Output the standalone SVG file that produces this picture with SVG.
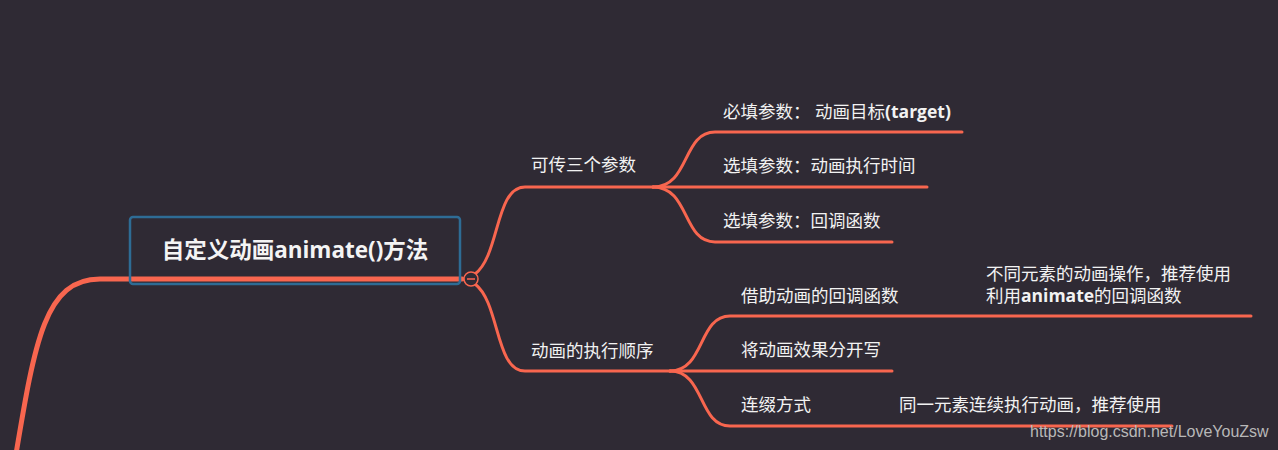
<svg xmlns="http://www.w3.org/2000/svg" width="1278" height="450" viewBox="0 0 1278 450">
<style>
.bg{fill:#2f2a34}
.ln{fill:none;stroke:#f8664f;stroke-width:3;stroke-linecap:round}
.t{font-family:"Open Sans","Noto Sans CJK SC",sans-serif;font-size:17.5px;fill:#f2f2f2}
.b{font-weight:bold}
.root{font-family:"Open Sans","Noto Sans CJK SC",sans-serif;font-size:22.5px;font-weight:bold;fill:#f4f4f4}
.wm{font-family:"Liberation Sans",Arial,sans-serif;font-size:16px;fill:#b8b8b8}
</style>
<rect class="bg" x="0" y="0" width="1278" height="450"/>
<g id="connectors">
<path class="ln" style="stroke-width:5" d="M15,460 C35,340 45,279 100,279 L462,279"/>
<path class="ln" d="M475,274 C500,255 495,187 525,187 L653,187"/>
<path class="ln" d="M475,284 C500,303 495,371 525,371 L670,371"/>
<path class="ln" d="M653,187 C690,187 682,132 715,132 L962,132"/>
<path class="ln" d="M653,187 L927,187"/>
<path class="ln" d="M653,187 C690,187 682,242 715,242 L892,242"/>
<path class="ln" d="M670,371 C705,371 698,316 730,316 L1251,316"/>
<path class="ln" d="M670,371 L892,371"/>
<path class="ln" d="M670,371 C705,371 698,426 730,426 L1172,426"/>
</g>
<g id="root">
<rect x="130" y="217" width="330" height="67" rx="3" fill="none" stroke="#2e6c95" stroke-width="2.5"/>
<text class="root" x="295" y="258" text-anchor="middle">自定义动画animate()方法</text>
<circle cx="471" cy="279" r="7" fill="#2f2a34" stroke="#f8664f" stroke-width="1.5"/>
<line x1="467" y1="279" x2="475" y2="279" stroke="#c9564a" stroke-width="2"/>
</g>
<g id="n-params"><text class="t" x="531" y="171">可传三个参数</text></g>
<g id="n-req"><text class="t" x="723" y="118">必填参数： 动画目标<tspan class="b">(target)</tspan></text></g>
<g id="n-time"><text class="t" x="723" y="172">选填参数：动画执行时间</text></g>
<g id="n-cb"><text class="t" x="723" y="227">选填参数：回调函数</text></g>
<g id="n-order"><text class="t" x="531" y="357">动画的执行顺序</text></g>
<g id="n-usecb"><text class="t" x="741" y="302">借助动画的回调函数</text></g>
<g id="n-usecb-note"><text class="t" x="986" y="280">不同元素的动画操作，推荐使用</text><text class="t" x="986" y="302">利用<tspan class="b">animate</tspan>的回调函数</text></g>
<g id="n-separate"><text class="t" x="741" y="356">将动画效果分开写</text></g>
<g id="n-chain"><text class="t" x="741" y="411">连缀方式</text></g>
<g id="n-chain-note"><text class="t" x="899" y="411">同一元素连续执行动画，推荐使用</text></g>
<text class="wm" x="1030" y="437">https://blog.csdn.net/LoveYouZsw</text>
</svg>
